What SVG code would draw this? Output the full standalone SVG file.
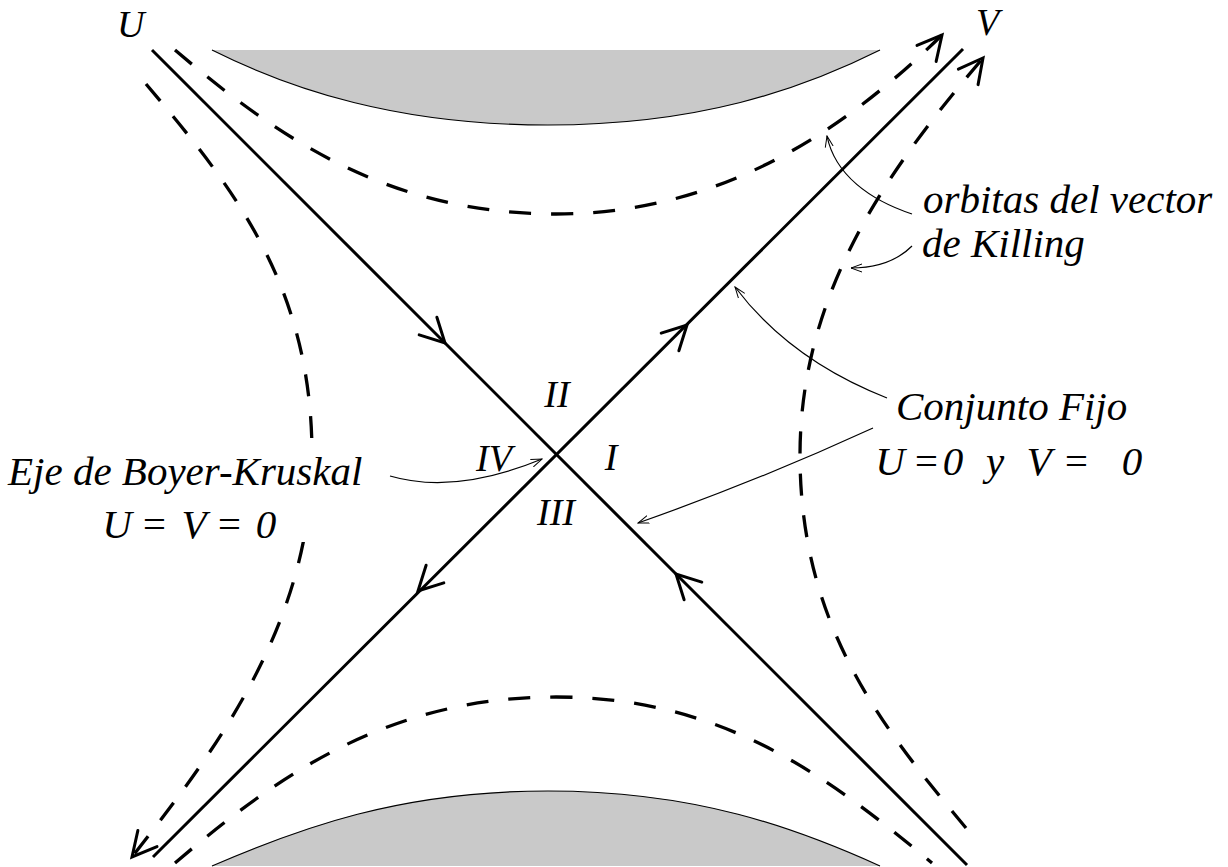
<svg xmlns="http://www.w3.org/2000/svg" width="1228" height="867" viewBox="0 0 1228 867">
<style>
 .axis{fill:none;stroke:#000;stroke-width:3}
 .orbit{fill:none;stroke:#000;stroke-width:3.3;stroke-dasharray:22 20}
 .chev{fill:none;stroke:#000;stroke-width:3;stroke-linecap:round;stroke-linejoin:miter}
 .ptr{fill:none;stroke:#000;stroke-width:1.2;marker-end:url(#ah)}
 .sing{fill:#c9c9c9;stroke:none}
 .edge{fill:none;stroke:#000;stroke-width:1.2}
 .lbl{font-size:41px}
 .reg{font-size:38px;text-anchor:middle}
 .uv{font-size:38px}
 .tok{text-anchor:middle}
</style>
<defs>
 <path id="chev" d="M-24,-12.5 L0,0 L-24,12.5"/>
 <marker id="ah" viewBox="0 0 12 10" refX="11" refY="5" markerWidth="12" markerHeight="10" markerUnits="userSpaceOnUse" orient="auto">
  <path d="M0,1 L11,5 L0,9" fill="none" stroke="#000" stroke-width="1"/>
 </marker>
</defs>
<rect width="1228" height="867" fill="#fff"/>

<g id="singularity-top">
 <path class="sing" d="M212,50 C292,90 398,125 548,125 C698,125 800,90 880,50 Z"/>
 <path class="edge" d="M212,50 C292,90 398,125 548,125 C698,125 800,90 880,50"/>
</g>
<g id="singularity-bottom">
 <path class="sing" d="M212,866 C300,828 400,791 548,791 C696,791 796,828 880,866 Z"/>
 <path class="edge" d="M212,866 C300,828 400,791 548,791 C696,791 796,828 880,866"/>
</g>

<g id="orbits">
 <path id="orbit-II" class="orbit" d="M175,50 C275,135 386,214 556,214 C726,214 850,125 942,35"/>
 <use href="#chev" class="chev" transform="translate(942,35) rotate(-50)"/>
 <path id="orbit-III" class="orbit" d="M175,863 C275,778 386,697 556,697 C726,697 832,780 932,863"/>
 <path id="orbit-I" class="orbit" d="M966,828 C881,726 800,625 800,455 C800,285 898,158 983,58"/>
 <use href="#chev" class="chev" transform="translate(983,58) rotate(-52)"/>
 <path id="orbit-IV" class="orbit" d="M146,84 C233,187 312,285 312,455 C312,625 214,752 132,857"/>
 <use href="#chev" class="chev" transform="translate(132,857) rotate(130)"/>
</g>

<g id="axes">
 <g id="axis-U">
  <line class="axis" x1="152" y1="50" x2="967" y2="865"/>
  <use href="#chev" class="chev" transform="translate(445,343) rotate(45)"/>
  <use href="#chev" class="chev" transform="translate(676,574) rotate(-135)"/>
 </g>
 <g id="axis-V">
  <line class="axis" x1="963" y1="49" x2="153" y2="857"/>
  <use href="#chev" class="chev" transform="translate(687,325) rotate(-45)"/>
  <use href="#chev" class="chev" transform="translate(418,591) rotate(135)"/>
 </g>
</g>

<g font-family="'Liberation Serif', 'Times New Roman', 'DejaVu Serif', serif" font-style="italic" fill="#000">
<g id="axis-labels">
 <text class="uv" x="117" y="37">U</text>
 <text class="uv" x="976" y="35">V</text>
</g>

<g id="regions">
 <text class="reg" x="557" y="407">II</text>
 <text class="reg" x="494" y="471">IV</text>
 <text class="reg" x="611" y="470">I</text>
 <text class="reg" x="556" y="525">III</text>
</g>

<g id="label-boyer-kruskal">
 <rect x="0" y="446" width="372" height="96" fill="#fff"/>
 <text class="lbl" x="8" y="485">Eje de Boyer-Kruskal</text>
 <text class="lbl tok" y="538"><tspan x="117">U</tspan><tspan x="154">=</tspan><tspan x="194">V</tspan><tspan x="229">=</tspan><tspan x="266">0</tspan></text>
</g>

<g id="label-orbitas">
 <text class="lbl" x="923" y="213">orbitas del vector</text>
 <text class="lbl" x="922" y="257">de Killing</text>
</g>

<g id="label-conjunto">
 <text class="lbl" x="896" y="420">Conjunto Fijo</text>
 <text class="lbl tok" y="475"><tspan x="890">U</tspan><tspan x="926">=</tspan><tspan x="953">0</tspan><tspan x="995">y</tspan><tspan x="1039">V</tspan><tspan x="1076">=</tspan><tspan x="1132">0</tspan></text>
</g>
</g>

<g id="connectors">
 <path class="ptr" d="M390,476 Q455,495 542,459"/>
 <path class="ptr" d="M887,398 Q790,360 735,287"/>
 <path class="ptr" d="M873,428 Q760,480 638,523"/>
 <path class="ptr" d="M912,214 C870,200 835,175 827,136"/>
 <path class="ptr" d="M912,246 Q890,268 851,268"/>
</g>
</svg>
